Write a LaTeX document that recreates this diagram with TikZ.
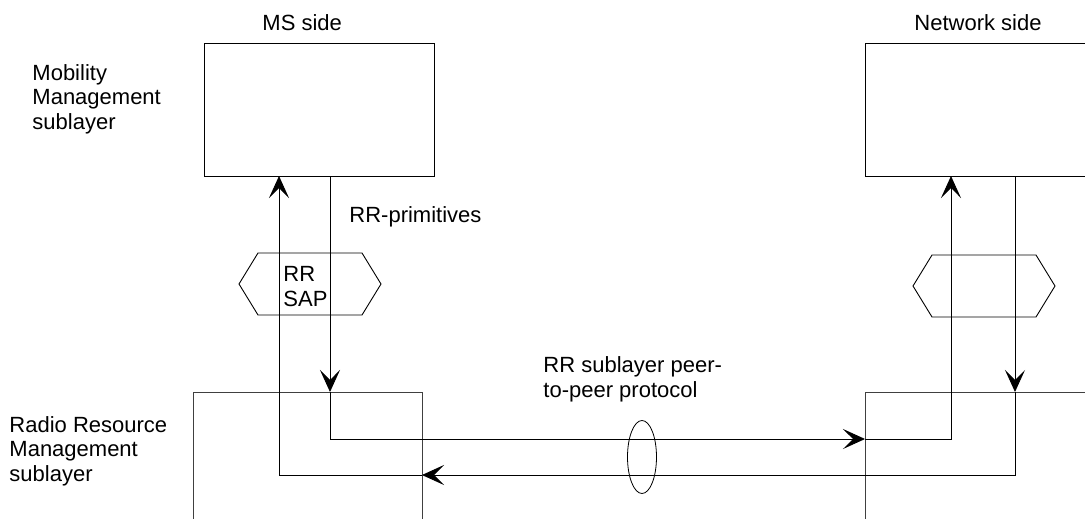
\documentclass[tikz,border=0pt]{standalone}
\usepackage{fontspec}
\setmainfont{Liberation Sans}
\usetikzlibrary{arrows.meta,shapes.geometric}
\begin{document}
\begin{tikzpicture}[x=1pt,y=-1pt,line width=0.9pt,
  lbl/.style={font=\fontsize{22}{24.5}\selectfont,inner sep=0pt,align=left,anchor=base west},
  layerbox/.style={draw,rectangle,inner sep=0pt,anchor=north west},
  lowbox/.style={layerbox,draw=black!75},
  arr/.style={-{Stealth[length=22pt,width=20pt,inset=10pt]}},
  sap/.style={line width=0.9pt}]
\useasboundingbox (0,0) rectangle (1085,519);
\clip (0,0) rectangle (1085,519);
% layer boxes
\node[layerbox,minimum width=230pt,minimum height=133pt] (mm1) at (204,43) {};
\node[layerbox,minimum width=260pt,minimum height=133pt] (mm2) at (865,43) {};
\node[lowbox,minimum width=229pt,minimum height=160pt] (rr1) at (193,392) {};
\node[lowbox,minimum width=260pt,minimum height=160pt] (rr2) at (865,392) {};
% SAP hexagons
\draw[sap] (239,284)--(258,253)--(362,253)--(381,284)--(362,315)--(258,315)--cycle;
\draw[sap] (913,286)--(932,255)--(1036,255)--(1055,286)--(1036,317)--(932,317)--cycle;
\node[ellipse,draw,minimum width=29pt,minimum height=73pt,inner sep=0pt,line width=0.8pt] (peer) at (642,457) {};
% connector points
\coordinate (a0) at (330,176);
\coordinate (a1) at (330,392);
\coordinate (a2) at (330,439);
\coordinate (a3) at (865,439);
\coordinate (a4) at (951,439);
\coordinate (a5) at (951,176);
\coordinate (b0) at (1015,176);
\coordinate (b1) at (1015,392);
\coordinate (b2) at (1015,475);
\coordinate (b3) at (422,475);
\coordinate (b4) at (279,475);
\coordinate (b5) at (279,176);
\draw[arr] (a0) -- (a1);
\draw[arr] (a1) -- (a2) -- (a3);
\draw[arr] (a3) -- (a4) -- (a5);
\draw[arr] (b0) -- (b1);
\draw[arr] (b1) -- (b2) -- (b3);
\draw[arr] (b3) -- (b4) -- (b5);
% labels
\node[lbl] (ms) at (262,31) {MS side};
\node[lbl] (nw) at (914,31) {Network side};
\node[lbl] (mmlbl) at (32,129) {Mobility\\Management\\sublayer};
\node[lbl] (rrlbl) at (9,481) {Radio Resource\\Management\\sublayer};
\node[lbl] (prim) at (349,222) {RR-primitives};
\node[lbl] (saplbl) at (283,306) {RR\\SAP};
\node[lbl] (peerlbl) at (543,397) {RR sublayer peer-\\to-peer protocol};
\end{tikzpicture}
\end{document}
